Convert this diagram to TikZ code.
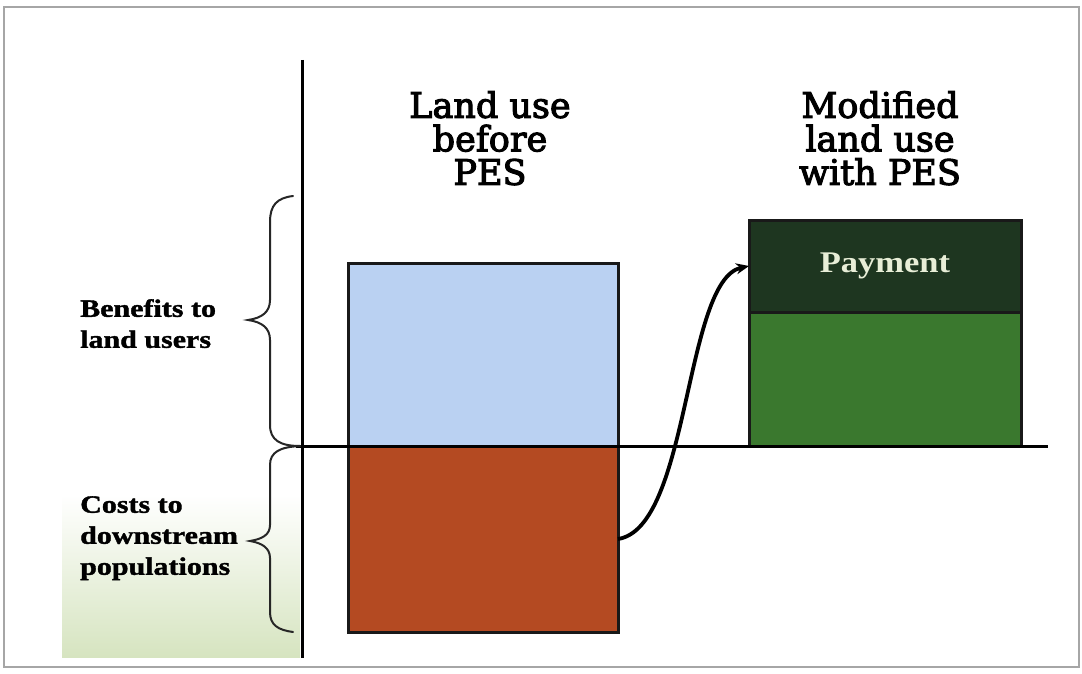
\documentclass[tikz,border=0pt]{standalone}
\usepackage{fontspec}
\usetikzlibrary{arrows.meta}
\newfontfamily\titlefont[FakeBold=3]{DejaVu Serif}
\newfontfamily\lblfont[FakeStretch=1.2,FakeBold=1.5]{Liberation Serif}
\newfontfamily\payfont[FakeStretch=1.15]{Liberation Serif}
\definecolor{blueC}{RGB}{186,209,242}
\definecolor{orangeC}{RGB}{180,74,34}
\definecolor{darkgreenC}{RGB}{30,54,32}
\definecolor{greenC}{RGB}{58,120,46}
\definecolor{payC}{RGB}{232,238,215}
\definecolor{paleC}{RGB}{214,228,192}
\tikzset{
  bar/.style={draw=black!90, line width=3pt, inner sep=0pt, outer sep=0pt},
  axisline/.style={line width=3pt, black},
  bracket/.style={line width=2pt, black!85, line cap=round},
  title/.style={font=\titlefont\fontsize{35}{33.5}\selectfont, align=center, inner sep=0pt, anchor=north},
  lbl/.style={font=\lblfont\bfseries\fontsize{25}{31}\selectfont, align=left, inner sep=0pt, anchor=north west},
  arr/.style={line width=3.8pt, black, -{Stealth[length=13pt,width=11pt]}}
}
\begin{document}
\begin{tikzpicture}[x=1pt,y=-1pt]
\useasboundingbox (0,0) rectangle (1082,674);
\fill[white] (0,0) rectangle (1082,674);
% frame
\draw[gray!70, line width=1.3pt] (4,7) rectangle (1079,667);
% pale green background
\shade[top color=white, bottom color=paleC] (62,495) rectangle (300,657);
% bars
\node[bar, fill=blueC, minimum width=270pt, minimum height=183pt] (benefit) at (483,354.5) {};
\node[bar, fill=orangeC, minimum width=270pt, minimum height=186pt] (cost) at (483,539) {};
\node[bar, fill=greenC, minimum width=272pt, minimum height=134pt] (modified) at (885,379) {};
\node[bar, fill=darkgreenC, minimum width=272pt, minimum height=92pt,
      text=payC, font=\payfont\bfseries\fontsize{30}{32}\selectfont] (pay) at (885,266) {Payment};
% axes
\coordinate (vtop) at (302,60);
\coordinate (vbot) at (302,658);
\coordinate (hleft) at (296,446);
\coordinate (hright) at (1048,446);
\draw[axisline] (vtop) -- (vbot);
\draw[axisline] (hleft) -- (hright);
% braces
\draw[bracket] (293,196) .. controls (277,198) and (270,205) .. (270,222) -- (270,300)
  .. controls (270,312) and (262,318) .. (248,320)
  .. controls (262,322) and (270,328) .. (270,340) -- (270,425)
  .. controls (270,440) and (280,446) .. (300,446);
\draw[bracket] (300,446) .. controls (280,447) and (270,452) .. (270,465) -- (270,525)
  .. controls (270,535) and (262,539) .. (250,541)
  .. controls (262,543) and (270,548) .. (270,558) -- (270,612)
  .. controls (270,625) and (278,630) .. (293,632);
% labels
\node[lbl] (benlbl) at (80,299) {Benefits to\\land users};
\node[lbl] (costlbl) at (80,496) {Costs to\\downstream\\populations};
\node[title] (t1) at (490,91) {Land use\\before\\PES};
\node[title] (t2) at (880,91) {Modified\\land use\\with PES};
% arrow
\draw[arr] (cost.east) .. controls (690,528) and (684,280) .. (pay.west);
\end{tikzpicture}
\end{document}
